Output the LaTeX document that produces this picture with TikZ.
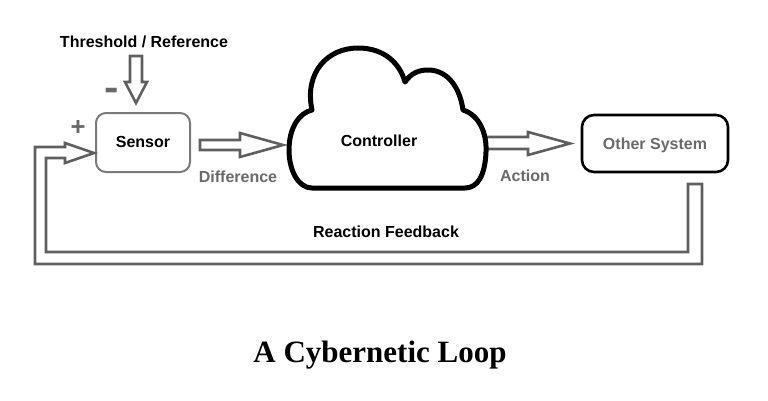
\documentclass[tikz,border=0pt]{standalone}
\usepackage{fontspec}
\setmainfont{Liberation Sans}
\newfontfamily\titlefont{Liberation Serif}
\definecolor{linegray}{HTML}{5F5F5F}
\definecolor{boxgray}{HTML}{7A7A7A}
\definecolor{textgray}{HTML}{6A6A6A}
\begin{document}
\begin{tikzpicture}[x=1pt,y=-1pt,
  lbl/.style={font=\fontsize{16}{18}\selectfont\bfseries, inner sep=0pt},
  graylbl/.style={lbl, text=textgray},
  blockarrow/.style={draw=linegray, line width=2.6pt, fill=white, line join=miter},
  sensorbox/.style={draw=boxgray, line width=2pt, rounded corners=10pt, fill=white, inner sep=0pt},
  otherbox/.style={draw=black, line width=2.6pt, rounded corners=12pt, fill=white, inner sep=0pt},
  cloudline/.style={draw=black, line width=5pt, fill=white, line join=round}
]
\useasboundingbox (0,0) rectangle (768,400);
\fill[white] (0,0) rectangle (768,400);

% boxes
\node[sensorbox, minimum width=94pt, minimum height=59pt] (sensor) at (143,142.5) {};
\node[lbl] (sensortext) at (143,142) {Sensor};
\node[otherbox, minimum width=146pt, minimum height=57pt] (other) at (655,143.5) {};
\node[graylbl] (othertext) at (655,145) {Other System};

% labels
\node[lbl] (threshold) at (144,42) {Threshold / Reference};
\node[lbl, text=textgray] (minus) at (112,94) {\scalebox{2.7}[2.4]{-}};
\node[lbl, text=textgray] (plus) at (78,128) {\scalebox{1.6}{+}};
\node[graylbl] (difference) at (238,177) {Difference};
\node[graylbl] (action) at (525,176) {Action};
\node[lbl] (feedback) at (386,232) {Reaction Feedback};

% threshold arrow
\draw[blockarrow] (130,56) -- (142,56) -- (142,82) -- (147,82) -- (136,103) -- (125,82) -- (130,82) -- cycle;
% difference arrow
\draw[blockarrow] (200,140) -- (240,140) -- (240,133) -- (283,145) -- (240,157) -- (240,150) -- (200,150) -- cycle;
% action arrow (tail hidden by cloud)
\draw[blockarrow] (470,137) -- (528,137) -- (528,132) -- (570,143.5) -- (528,155) -- (528,149) -- (470,149) -- cycle;
% feedback arrow
\draw[blockarrow] (94,153) -- (65,163) -- (65,158) -- (46,158) -- (46,252) -- (688,252) -- (688,184)
  -- (702,184) -- (702,264) -- (35,264) -- (35,147) -- (65,147) -- (65,143) -- cycle;

% cloud
\draw[cloudline] (312,110)
  .. controls (304,72) and (328,48) .. (358,48)
  .. controls (385,48) and (400,64) .. (405,82)
  .. controls (411,73) and (419,70) .. (428,70)
  .. controls (448,70) and (460,88) .. (463,110)
  .. controls (479,115) and (487,133) .. (486,152)
  .. controls (485,175) and (478,188) .. (465,188)
  -- (312,188)
  .. controls (298,188) and (289,170) .. (289,150)
  .. controls (289,128) and (299,113) .. (312,110) -- cycle;
\node[lbl] (controller) at (379,141) {Controller};

% title
\node[inner sep=0pt, font=\titlefont\fontsize{31}{34}\selectfont\bfseries] (title) at (380,355) {A Cybernetic Loop};
\end{tikzpicture}
\end{document}
